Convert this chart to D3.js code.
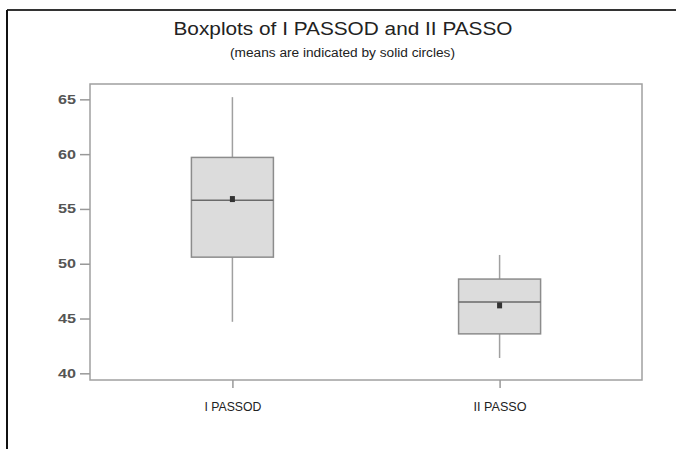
<!DOCTYPE html>
<html>
<head>
<meta charset="utf-8">
<script src="https://cdn.jsdelivr.net/npm/d3@7"></script>
<style>
  html, body { margin: 0; padding: 0; background: #fff; }
  svg { display: block; }
  text { font-family: "Liberation Sans", Arial, sans-serif; }
</style>
</head>
<body>
<svg id="chart" width="676" height="449"></svg>
<script>
const categories = ["I PASSOD", "II PASSO"];
const whiskerLow = [44.7, 41.4];
const q1 = [50.6, 43.6];
const median = [55.8, 46.5];
const q3 = [59.7, 48.6];
const whiskerHigh = [65.2, 50.8];
const means = [55.9, 46.2];
const yTicks = [40, 45, 50, 55, 60, 65];
const title = "Boxplots of I PASSOD and II PASSO";
const subtitle = "(means are indicated by solid circles)";

const svg = d3.select("#chart");
const W = 676, H = 449;
const plot = { left: 90, right: 642, top: 84, bottom: 380 };

// outer frame
svg.append("line").attr("x1", 7).attr("x2", W).attr("y1", 10).attr("y2", 10)
  .attr("stroke", "#333").attr("stroke-width", 2);
svg.append("line").attr("x1", 7).attr("x2", 7).attr("y1", 10).attr("y2", H)
  .attr("stroke", "#111").attr("stroke-width", 2);

// titles
svg.append("text").attr("x", 343).attr("y", 34.5).attr("text-anchor", "middle")
  .attr("font-size", 17.5).attr("fill", "#222")
  .attr("textLength", 339).attr("lengthAdjust", "spacingAndGlyphs")
  .text(title);
svg.append("text").attr("x", 342.5).attr("y", 56.5).attr("text-anchor", "middle")
  .attr("font-size", 12).attr("fill", "#222")
  .attr("textLength", 225).attr("lengthAdjust", "spacingAndGlyphs")
  .text(subtitle);

const y = d3.scaleLinear().domain([39.39, 66.4]).range([plot.bottom, plot.top]);
const x = d3.scalePoint().domain(categories).range([plot.left, plot.right]).padding(0.533);
const boxW = 82;

// plot frame
svg.append("rect").attr("x", plot.left).attr("y", plot.top)
  .attr("width", plot.right - plot.left).attr("height", plot.bottom - plot.top)
  .attr("fill", "none").attr("stroke", "#a0a0a0").attr("stroke-width", 1.5);

// y axis
const yAxis = d3.axisLeft(y).tickValues(yTicks).tickSize(10).tickPadding(4);
const gy = svg.append("g").attr("transform", `translate(${plot.left},0)`).call(yAxis);
gy.select(".domain").remove();
gy.selectAll(".tick line").attr("stroke", "#999").attr("stroke-width", 1.5);
gy.selectAll(".tick text").attr("font-size", 12.5).attr("font-weight", "bold")
  .attr("fill", "#555").attr("font-family", "'Liberation Sans', Arial, sans-serif")
  .attr("textLength", 18).attr("lengthAdjust", "spacingAndGlyphs");

// x axis
const xAxis = d3.axisBottom(x).tickSize(8).tickPadding(14);
const gx = svg.append("g").attr("transform", `translate(0,${plot.bottom})`).call(xAxis);
gx.select(".domain").remove();
gx.selectAll(".tick line").attr("stroke", "#999").attr("stroke-width", 1.5);
gx.selectAll(".tick text").attr("font-size", 12.5).attr("fill", "#222")
  .attr("font-family", "'Liberation Sans', Arial, sans-serif")
  .attr("textLength", (d, i) => i === 0 ? 57 : 53).attr("lengthAdjust", "spacingAndGlyphs");

// boxes
const g = svg.append("g");
categories.forEach((c, i) => {
  const cx = x(c);
  g.append("line").attr("x1", cx).attr("x2", cx).attr("y1", y(whiskerHigh[i])).attr("y2", y(q3[i]))
    .attr("stroke", "#a0a0a0").attr("stroke-width", 1.5);
  g.append("line").attr("x1", cx).attr("x2", cx).attr("y1", y(q1[i])).attr("y2", y(whiskerLow[i]))
    .attr("stroke", "#a0a0a0").attr("stroke-width", 1.5);
  g.append("rect").attr("x", cx - boxW / 2).attr("y", y(q3[i]))
    .attr("width", boxW).attr("height", y(q1[i]) - y(q3[i]))
    .attr("fill", "#dcdcdc").attr("stroke", "#8c8c8c").attr("stroke-width", 1.5);
  g.append("line").attr("x1", cx - boxW / 2).attr("x2", cx + boxW / 2)
    .attr("y1", y(median[i])).attr("y2", y(median[i]))
    .attr("stroke", "#6a6a6a").attr("stroke-width", 1.5);
  g.append("rect").attr("x", cx - 2.5).attr("y", y(means[i]) - 3)
    .attr("width", 5).attr("height", 6).attr("fill", "#333");
});
</script>
</body>
</html>
